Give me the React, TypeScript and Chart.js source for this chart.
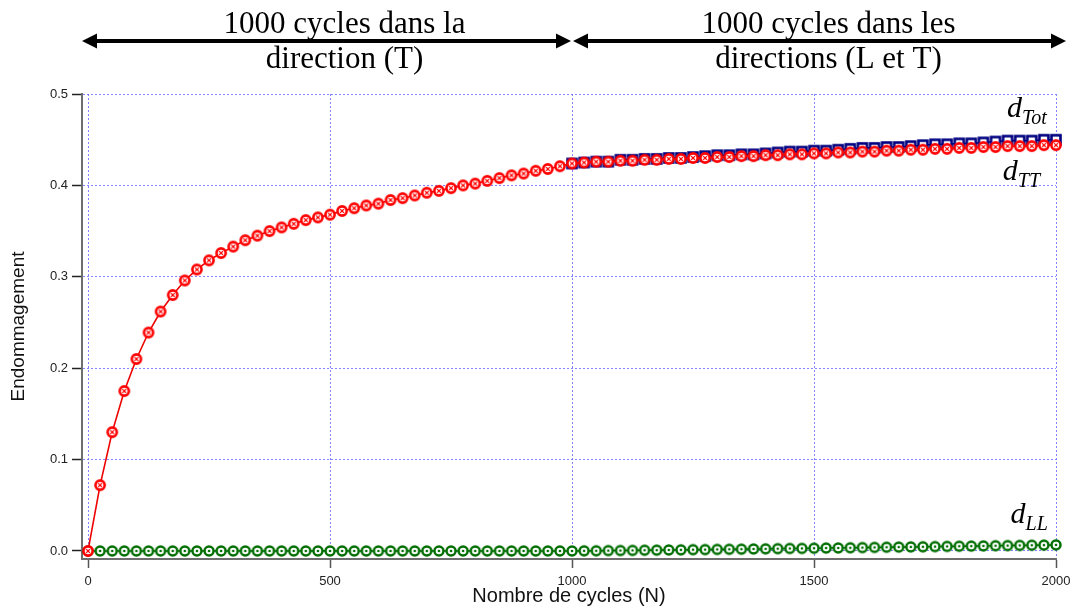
import React, { useEffect, useRef } from "react";
import { Chart, registerables } from "chart.js";

Chart.register(...registerables);

const cycles = [
  0, 25, 50, 75, 100, 125, 150, 175, 200, 225, 250, 275, 300, 325, 350, 375, 400, 425, 450, 475,
  500, 525, 550, 575, 600, 625, 650, 675, 700, 725, 750, 775, 800, 825, 850, 875, 900, 925, 950, 975,
  1000, 1025, 1050, 1075, 1100, 1125, 1150, 1175, 1200, 1225, 1250, 1275, 1300, 1325, 1350, 1375, 1400, 1425, 1450, 1475,
  1500, 1525, 1550, 1575, 1600, 1625, 1650, 1675, 1700, 1725, 1750, 1775, 1800, 1825, 1850, 1875, 1900, 1925, 1950, 1975,
  2000,
];

const dTT = [
  0, 0.072, 0.13, 0.175, 0.21, 0.239, 0.262, 0.28, 0.296, 0.308, 0.318, 0.326, 0.333, 0.34, 0.345, 0.35, 0.354, 0.358, 0.362, 0.365,
  0.368, 0.372, 0.375, 0.378, 0.38, 0.384, 0.386, 0.389, 0.392, 0.394, 0.397, 0.4, 0.402, 0.405, 0.408, 0.411, 0.413, 0.416, 0.418, 0.421,
  0.424, 0.425, 0.426, 0.426, 0.427, 0.427, 0.428, 0.428, 0.429, 0.429, 0.43, 0.43, 0.431, 0.431, 0.432, 0.432, 0.433, 0.433, 0.434, 0.434,
  0.435, 0.435, 0.436, 0.436, 0.437, 0.437, 0.438, 0.438, 0.439, 0.439, 0.44, 0.44, 0.441, 0.441, 0.442, 0.442, 0.443, 0.443, 0.443, 0.444,
  0.444,
];

const dLL = [
  0, 0, 0, 0, 0, 0, 0, 0, 0, 0, 0, 0, 0, 0, 0, 0, 0, 0, 0, 0,
  0, 0, 0, 0, 0, 0, 0, 0, 0, 0, 0, 0, 0, 0, 0, 0, 0, 0, 0, 0,
  0, 0.0001, 0.0002, 0.0004, 0.0005, 0.0006, 0.0008, 0.0009, 0.0011, 0.0012, 0.0014, 0.0015, 0.0017, 0.0018, 0.002, 0.0022, 0.0023, 0.0025, 0.0027, 0.0028,
  0.003, 0.0032, 0.0033, 0.0035, 0.0037, 0.0039, 0.0041, 0.0042, 0.0044, 0.0046, 0.0048, 0.005, 0.0052, 0.0053, 0.0055, 0.0057, 0.0059, 0.0061, 0.0063, 0.0064,
  0.0066,
];

const dTot = [
  null, null, null, null, null, null, null, null, null, null, null, null, null, null, null, null, null, null, null, null,
  null, null, null, null, null, null, null, null, null, null, null, null, null, null, null, null, null, null, null, null,
  0.424, 0.425, 0.426, 0.426, 0.428, 0.428, 0.429, 0.429, 0.43, 0.43, 0.431, 0.432, 0.433, 0.433, 0.434, 0.434, 0.435, 0.436, 0.437, 0.437,
  0.438, 0.438, 0.439, 0.44, 0.441, 0.441, 0.442, 0.442, 0.443, 0.444, 0.445, 0.445, 0.446, 0.446, 0.447, 0.448, 0.449, 0.449, 0.449, 0.45,
  0.45,
];

const xTicks = [0, 500, 1000, 1500, 2000];
const yTicks = [0, 0.1, 0.2, 0.3, 0.4, 0.5];

const phaseSplit = 1000;
const phaseLines = [
  ["1000 cycles dans la", "direction (T)"],
  ["1000 cycles dans les", "directions (L et T)"],
];
const phaseTextCenters = [530, 1530];

const seriesLabels = [
  { main: "d", sub: "Tot", x: 1981, y: 0.475 },
  { main: "d", sub: "TT", x: 1967, y: 0.406 },
  { main: "d", sub: "LL", x: 1983, y: 0.0306 },
];

function makeMarker(kind: string): HTMLCanvasElement {
  const c = document.createElement("canvas");
  c.width = 16;
  c.height = 16;
  const g = c.getContext("2d")!;
  if (kind === "red") {
    g.beginPath();
    g.arc(8, 8, 4.6, 0, Math.PI * 2);
    g.fillStyle = "#ffffff";
    g.fill();
    g.lineWidth = 2.6;
    g.strokeStyle = "#ff0000";
    g.stroke();
    g.beginPath();
    g.moveTo(6.1, 6.1);
    g.lineTo(9.9, 9.9);
    g.moveTo(9.9, 6.1);
    g.lineTo(6.1, 9.9);
    g.lineWidth = 1.3;
    g.stroke();
  } else if (kind === "green") {
    g.beginPath();
    g.arc(8, 8, 4.5, 0, Math.PI * 2);
    g.fillStyle = "#ffffff";
    g.fill();
    g.lineWidth = 2.5;
    g.strokeStyle = "#006e00";
    g.stroke();
    g.beginPath();
    g.arc(8, 8, 1.3, 0, Math.PI * 2);
    g.fillStyle = "#006e00";
    g.fill();
  } else {
    g.fillStyle = "#ffffff";
    g.fillRect(3.5, 3.5, 9, 9);
    g.lineWidth = 2.6;
    g.strokeStyle = "#000080";
    g.strokeRect(3.5, 3.5, 9, 9);
  }
  return c;
}

const annotationPlugin = {
  id: "annotations",
  afterDraw(chart: any) {
    const { ctx, scales, chartArea } = chart;
    const xs = scales.x;
    const ys = scales.y;
    ctx.save();
    const arrowY = 41;
    const drawArrow = (x1: number, x2: number) => {
      ctx.strokeStyle = "#000";
      ctx.fillStyle = "#000";
      ctx.lineWidth = 4;
      const head = 15;
      const half = 7.5;
      ctx.beginPath();
      ctx.moveTo(x1 + head - 2, arrowY);
      ctx.lineTo(x2 - head + 2, arrowY);
      ctx.stroke();
      ctx.beginPath();
      ctx.moveTo(x1, arrowY);
      ctx.lineTo(x1 + head, arrowY - half);
      ctx.lineTo(x1 + head, arrowY + half);
      ctx.closePath();
      ctx.fill();
      ctx.beginPath();
      ctx.moveTo(x2, arrowY);
      ctx.lineTo(x2 - head, arrowY - half);
      ctx.lineTo(x2 - head, arrowY + half);
      ctx.closePath();
      ctx.fill();
    };
    const mid = xs.getPixelForValue(phaseSplit);
    drawArrow(chartArea.left, mid - 1);
    drawArrow(mid + 1, xs.getPixelForValue(2000) + 10);

    ctx.font = "31px 'Liberation Serif', 'Times New Roman', serif";
    ctx.textAlign = "center";
    ctx.textBaseline = "alphabetic";
    ctx.fillStyle = "#000";
    phaseLines.forEach((lines, i) => {
      const cx = xs.getPixelForValue(phaseTextCenters[i]);
      ctx.fillText(lines[0], cx, 33);
      ctx.fillText(lines[1], cx, 68);
    });

    seriesLabels.forEach((l) => {
      const rx = xs.getPixelForValue(l.x);
      const by = ys.getPixelForValue(l.y);
      ctx.textAlign = "left";
      ctx.font = "italic 20px 'Liberation Serif', 'Times New Roman', serif";
      const sw = ctx.measureText(l.sub).width;
      ctx.font = "italic 30px 'Liberation Serif', 'Times New Roman', serif";
      const mw = ctx.measureText(l.main).width;
      const left = rx - sw - mw;
      ctx.fillText(l.main, left, by);
      ctx.font = "italic 20px 'Liberation Serif', 'Times New Roman', serif";
      ctx.fillText(l.sub, left + mw, by + 7);
    });
    ctx.restore();
  },
};

export default function App() {
  const ref = useRef<HTMLCanvasElement>(null);
  useEffect(() => {
    if (!ref.current) return;
    const redM = makeMarker("red");
    const greenM = makeMarker("green");
    const blueM = makeMarker("blue");
    const toPts = (vals: (number | null)[]) => cycles.map((c, i) => ({ x: c, y: vals[i] }));
    const tickFont = { family: "'Liberation Sans', Arial, sans-serif", size: 13 };
    const chart = new Chart(ref.current, {
      type: "line",
      data: {
        datasets: [
          {
            label: "dTT",
            data: toPts(dTT),
            borderColor: "#ee0000",
            borderWidth: 1.6,
            pointStyle: redM,
            pointRadius: 6,
            clip: false,
          },
          {
            label: "dLL",
            data: toPts(dLL),
            borderColor: "#006e00",
            borderWidth: 1.6,
            pointStyle: greenM,
            pointRadius: 6,
            clip: false,
          },
          {
            label: "dTot",
            data: toPts(dTot),
            borderColor: "#000080",
            borderWidth: 1.6,
            pointStyle: blueM,
            pointRadius: 6,
            clip: false,
          },
        ] as any,
      },
      options: {
        animation: false,
        responsive: false,
        layout: { padding: { left: 0, top: 94, right: 17, bottom: 0 } },
        plugins: { legend: { display: false }, tooltip: { enabled: false } },
        scales: {
          x: {
            type: "linear",
            min: -12.4,
            max: 2000,
            afterBuildTicks: (s: any) => {
              s.ticks = xTicks.map((v) => ({ value: v }));
            },
            afterFit: (s: any) => {
              s.height = 50;
              s.paddingLeft = 0;
              s.paddingRight = 0;
            },
            grid: {
              color: "rgba(110,110,255,0.85)",
              lineWidth: 1,
              tickColor: "#555",
              tickLength: 9,
              tickWidth: 1.5,
            },
            border: { display: true, color: "#6e6e6e", width: 2, dash: [2, 2] },
            ticks: {
              font: tickFont,
              color: "#222",
              padding: 6,
              maxRotation: 0,
              callback: (v: any) => String(v),
            },
            title: {
              display: true,
              text: "Nombre de cycles (N)",
              font: { family: "'Liberation Sans', Arial, sans-serif", size: 20 },
              color: "#111",
              padding: { top: 0, bottom: 1 },
            },
          },
          y: {
            type: "linear",
            min: -0.0088,
            max: 0.5,
            afterBuildTicks: (s: any) => {
              s.ticks = yTicks.map((v) => ({ value: v }));
            },
            afterFit: (s: any) => {
              s.width = 82;
              s.paddingTop = 0;
              s.paddingBottom = 0;
            },
            grid: {
              color: "rgba(110,110,255,0.85)",
              lineWidth: 1,
              tickColor: "#222",
              tickLength: 10,
              tickWidth: 1.5,
            },
            border: { display: true, color: "#6e6e6e", width: 2, dash: [2, 2] },
            ticks: {
              font: tickFont,
              color: "#222",
              padding: 4,
              callback: (v: any) => Number(v).toFixed(1),
            },
            title: {
              display: true,
              text: "Endommagement",
              font: { family: "'Liberation Sans', Arial, sans-serif", size: 19 },
              color: "#111",
              padding: { top: 7, bottom: 0 },
            },
          },
        },
      } as any,
      plugins: [annotationPlugin],
    });
    return () => chart.destroy();
  }, []);
  return (
    <div style={{ position: "fixed", left: 0, top: 0, width: 1073, height: 609, background: "#fff" }}>
      <canvas ref={ref} width={1073} height={609} />
    </div>
  );
}
